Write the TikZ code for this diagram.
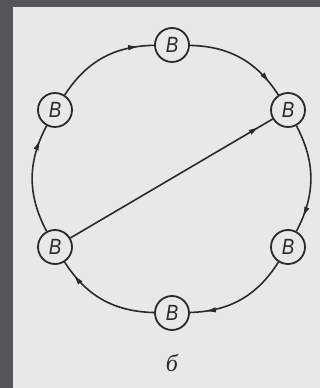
\documentclass[tikz,border=0pt]{standalone}
\usepackage{fontspec}
\setmainfont{Liberation Serif}
\newfontfamily\bfnt{Liberation Sans}
\usetikzlibrary{arrows.meta,decorations.markings}
\definecolor{frame}{HTML}{55555C}
\definecolor{paper}{HTML}{E8E8E8}
\definecolor{ink}{HTML}{2A2A2A}
\tikzset{
  vtx/.style={circle, draw=ink, line width=1.8pt, minimum size=34pt, inner sep=0pt, fill=paper,
    font=\bfnt\itshape\fontsize{22}{22}\selectfont, text=ink},
  edge/.style={draw=ink, line width=1.6pt, postaction={decorate},
    decoration={markings, mark=at position -15pt with {\arrow{Latex[length=11pt,width=5.5pt]}}}}
}
\begin{document}
\begin{tikzpicture}[x=1pt,y=1pt]
\fill[frame] (0,0) rectangle (320,388);
\fill[paper] (13,0) rectangle (320,381);
\useasboundingbox (0,0) rectangle (320,388);
\node[vtx] (t)  at (172,343) {\scalebox{0.85}[1]{В}};
\node[vtx] (tr) at (288,278) {\scalebox{0.85}[1]{В}};
\node[vtx] (rb) at (288,141) {\scalebox{0.85}[1]{В}};
\node[vtx] (b)  at (172,75)  {\scalebox{0.85}[1]{В}};
\node[vtx] (lb) at (55,141)  {\scalebox{0.85}[1]{В}};
\node[vtx] (lt) at (55,278)  {\scalebox{0.85}[1]{В}};
\node[font=\itshape\fontsize{24}{24}\selectfont, text=ink] (lab) at (172,25) {б};
\draw[edge] (lt) to[bend left=28] (t);
\draw[edge] (t)  to[bend left=28] (tr);
\draw[edge] (tr) to[bend left=28] (rb);
\draw[edge] (rb) to[bend left=28] (b);
\draw[edge] (b)  to[bend left=28] (lb);
\draw[edge] (lb) to[bend left=28] (lt);
\draw[edge] (lb) -- (tr);
\end{tikzpicture}
\end{document}
